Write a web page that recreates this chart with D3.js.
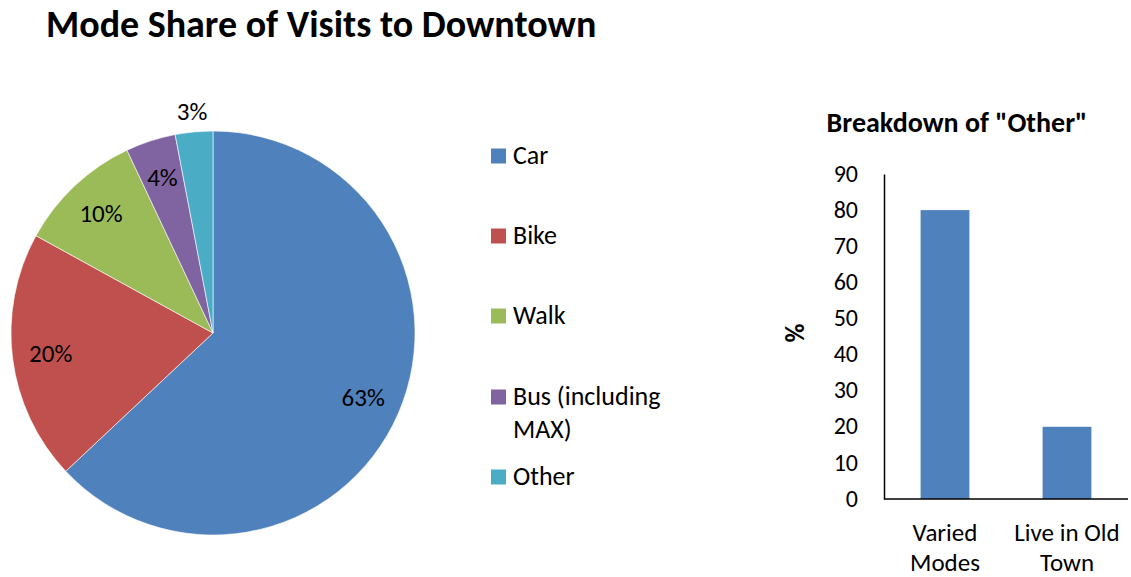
<!DOCTYPE html>
<html>
<head>
<meta charset="utf-8">
<script src="https://cdn.jsdelivr.net/npm/d3@7"></script>
<style>
html,body{margin:0;padding:0;background:#fff;}
svg{display:block;font-family:Carlito, Calibri, Lato, "Open Sans", sans-serif;}
</style>
</head>
<body>
<svg id="chart" width="1131" height="577"></svg>
<script>
// Pie data
const modes = ["Car", "Bike", "Walk", "Bus (including MAX)", "Other"];
const modeShares = [63, 20, 10, 4, 3];
const modeColors = ["#4F81BD", "#C0504D", "#9BBB59", "#8064A2", "#4BACC6"];
const legendLines = [["Car"], ["Bike"], ["Walk"], ["Bus (including", "MAX)"], ["Other"]];

// Bar data
const otherCategories = [["Varied", "Modes"], ["Live in Old", "Town"]];
const otherValues = [80, 20];
const yTicks = [0, 10, 20, 30, 40, 50, 60, 70, 80, 90];

const svg = d3.select("#chart");

// Title
svg.append("text")
  .attr("x", 46).attr("y", 37)
  .attr("font-size", 38).attr("font-weight", "bold").attr("fill", "#000")
  .text("Mode Share of Visits to Downtown");

// Pie
const cx = 213, cy = 333, r = 202;
const pie = d3.pie().sort(null).value(d => d)(modeShares);
const arc = d3.arc().innerRadius(0).outerRadius(r);
const gPie = svg.append("g").attr("transform", `translate(${cx},${cy})`);
gPie.selectAll("path").data(pie).join("path")
  .attr("d", arc)
  .attr("fill", (d, i) => modeColors[i])
  .attr("stroke", "#fff").attr("stroke-width", 0.6);

const labelArcIn = d3.arc().innerRadius(r * 0.81).outerRadius(r * 0.81);
const labelArcOut = d3.arc().innerRadius(r * 1.1).outerRadius(r * 1.1);
gPie.selectAll("text.lbl").data(pie).join("text")
  .attr("class", "lbl")
  .attr("transform", d => {
    const a = (d.data <= 3 ? labelArcOut : labelArcIn).centroid(d);
    return `translate(${a[0]},${a[1]})`;
  })
  .attr("text-anchor", "middle").attr("dy", "0.33em")
  .attr("font-size", 25).attr("fill", "#000")
  .text(d => d.data + "%");

// Legend
const legendY = [156, 236, 316, 397, 477];
const gLeg = svg.append("g");
modes.forEach((m, i) => {
  gLeg.append("rect")
    .attr("x", 491).attr("y", legendY[i] - 7.5)
    .attr("width", 15).attr("height", 15)
    .attr("fill", modeColors[i]);
  legendLines[i].forEach((line, j) => {
    gLeg.append("text")
      .attr("x", 513).attr("y", legendY[i] + j * 33)
      .attr("dy", "0.3em")
      .attr("font-size", 26).attr("fill", "#000")
      .text(line);
  });
});

// Bar chart
const x0 = 884, x1 = 1128, yTop = 174, yBot = 499;
const x = d3.scaleBand().domain(otherCategories.map((d, i) => i)).range([x0, x1]).padding(0);
const y = d3.scaleLinear().domain([0, 90]).range([yBot, yTop]);

svg.append("text")
  .attr("x", 957).attr("y", 132)
  .attr("text-anchor", "middle")
  .attr("font-size", 28).attr("font-weight", "bold").attr("fill", "#000")
  .text('Breakdown of "Other"');

const barW = x.bandwidth() * 0.4;
svg.append("g").selectAll("rect").data(otherValues).join("rect")
  .attr("x", (d, i) => x(i) + (x.bandwidth() - barW) / 2)
  .attr("y", d => y(d))
  .attr("width", barW)
  .attr("height", d => yBot - y(d))
  .attr("fill", "#4F81BD");

const yAxis = d3.axisLeft(y).tickValues(yTicks).tickSize(0).tickPadding(26);
const gy = svg.append("g").attr("transform", `translate(${x0},0)`).call(yAxis);
gy.select(".domain").attr("stroke", "#000").attr("stroke-width", 1.5);
gy.selectAll("text").attr("font-size", 24).attr("fill", "#000").attr("dy", "0.3em")
  .attr("font-family", "Carlito, Calibri, Lato, 'Open Sans', sans-serif");

svg.append("line")
  .attr("x1", x0).attr("x2", x1).attr("y1", yBot).attr("y2", yBot)
  .attr("stroke", "#000").attr("stroke-width", 1.5);

const gx = svg.append("g");
otherCategories.forEach((lines, i) => {
  lines.forEach((line, j) => {
    gx.append("text")
      .attr("x", x(i) + x.bandwidth() / 2)
      .attr("y", 541 + j * 30)
      .attr("text-anchor", "middle")
      .attr("font-size", 25).attr("fill", "#000")
      .text(line);
  });
});

svg.append("text")
  .attr("transform", "translate(795,333) rotate(-90)")
  .attr("text-anchor", "middle").attr("dy", "0.35em")
  .attr("font-size", 26).attr("font-weight", "bold").attr("fill", "#000")
  .text("%");
</script>
</body>
</html>
